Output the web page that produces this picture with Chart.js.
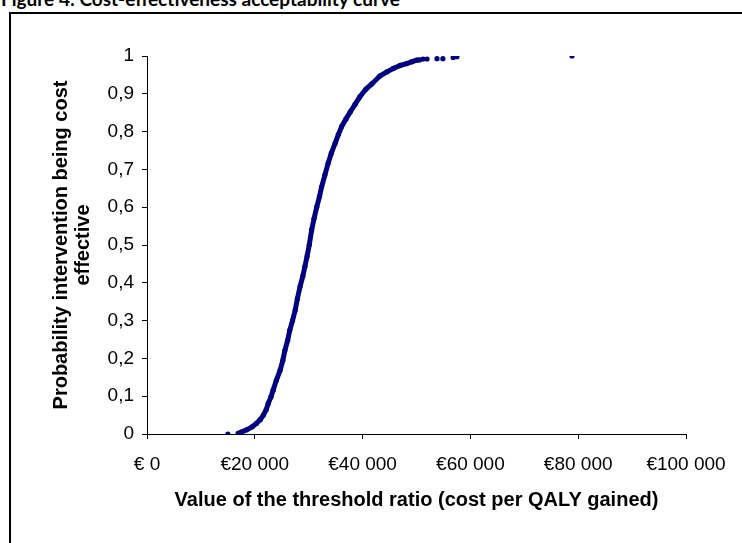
<!DOCTYPE html>
<html>
<head>
<meta charset="utf-8">
<script src="https://cdn.jsdelivr.net/npm/chart.js@4"></script>
<style>
  html, body { margin: 0; padding: 0; background: #ffffff; overflow: hidden; }
  #wrap { position: relative; width: 742px; height: 543px; }
  #frame { position: absolute; left: 9px; top: 12px; width: 800px; height: 600px;
           border-left: 2px solid #000; border-top: 2px solid #000; }
  #fig { position: absolute; left: 1px; top: -11px; font: bold 19px Lato, 'Open Sans', sans-serif;
         color: #000; white-space: nowrap; line-height: 19px; }
  canvas { position: absolute; left: 0; top: 0; }
</style>
</head>
<body>
<div id="wrap">
  <div id="fig">Figure 4: Cost-effectiveness acceptability curve</div>
  <div id="frame"></div>
  <canvas id="ceac" width="742" height="543"></canvas>
</div>
<script>
// Threshold ratio (EUR per QALY) - dense part of the curve
const thresholdEur = [
  16900, 17500, 18500, 19500, 20300, 21000, 21600, 22100, 22500, 23000,
  23400, 24000, 24700, 25200, 25600, 26100, 26500, 27000, 27500, 27900,
  28400, 28900, 29300, 29700, 30100, 30550, 31000, 31500, 32000, 32400,
  33000, 33600, 34200, 34900, 35500, 36100, 36900, 37700, 38600, 39500,
  40600, 41700, 43200, 44500, 45700, 47000, 48200, 49200, 50000, 50650,
];
// Probability intervention being cost effective, one per threshold above
const probCE = [
  0.002, 0.005, 0.011, 0.019, 0.028, 0.038, 0.050, 0.064, 0.081, 0.098,
  0.116, 0.142, 0.169, 0.195, 0.222, 0.248, 0.275, 0.300, 0.328, 0.358,
  0.390, 0.417, 0.443, 0.470, 0.500, 0.540, 0.570, 0.601, 0.628, 0.654,
  0.685, 0.716, 0.743, 0.769, 0.792, 0.813, 0.833, 0.852, 0.872, 0.892,
  0.912, 0.926, 0.947, 0.958, 0.967, 0.975, 0.980, 0.985, 0.989, 0.990,
];
// Loose markers away from the dense curve
const looseEur = [15000, 51200, 51950, 53800, 54900, 56800, 57500, 78850];
const looseProb = [0, 0.992, 0.992, 0.993, 0.993, 0.996, 0.998, 1];

const xTicks = [0, 20000, 40000, 60000, 80000, 100000];
const xTickLabels = ['€ 0', '€20 000', '€40 000', '€60 000', '€80 000', '€100 000'];
const yTicks = [0, 0.1, 0.2, 0.3, 0.4, 0.5, 0.6, 0.7, 0.8, 0.9, 1];
const yTickLabels = ['0', '0,1', '0,2', '0,3', '0,4', '0,5', '0,6', '0,7', '0,8', '0,9', '1'];

const NAVY = '#000080';
const FONT = 'Liberation Sans, Arial, sans-serif';
const toPts = (xs, ys) => xs.map((x, i) => ({ x, y: ys[i] }));

new Chart(document.getElementById('ceac'), {
  type: 'scatter',
  data: {
    datasets: [{
      data: toPts(thresholdEur, probCE),
      showLine: true,
      borderColor: NAVY,
      borderWidth: 5,
      backgroundColor: NAVY,
      pointRadius: 2.6,
      pointBorderWidth: 0,
      tension: 0,
    }, {
      data: toPts(looseEur, looseProb),
      showLine: false,
      backgroundColor: NAVY,
      borderColor: NAVY,
      pointRadius: 2.6,
      pointBorderWidth: 0,
    }],
  },
  options: {
    responsive: false,
    animation: false,
    layout: { padding: { top: 56, right: 56, left: 0, bottom: 0 } },
    plugins: { legend: { display: false }, tooltip: { enabled: false } },
    scales: {
      x: {
        type: 'linear', min: 0, max: 100000,
        afterFit: (s) => { s.height = 109; },
        afterBuildTicks: (s) => { s.ticks = xTicks.map((v) => ({ value: v })); },
        grid: { drawOnChartArea: false, color: '#000', tickLength: 5 },
        border: { color: '#000', width: 1 },
        ticks: {
          color: '#000', padding: 14, maxRotation: 0,
          font: { family: FONT, size: 19 },
          callback: (v) => xTickLabels[xTicks.indexOf(v)],
        },
        title: {
          display: true, text: 'Value of the threshold ratio (cost per QALY gained)',
          color: '#000', font: { family: FONT, size: 20, weight: 'bold' },
          padding: { top: 0, bottom: 31 },
        },
      },
      y: {
        type: 'linear', min: 0, max: 1,
        afterFit: (s) => { s.width = 147; },
        afterBuildTicks: (s) => { s.ticks = yTicks.map((v) => ({ value: v })); },
        grid: { drawOnChartArea: false, color: '#000', tickLength: 5 },
        border: { color: '#000', width: 1 },
        ticks: {
          color: '#000', padding: 8,
          font: { family: FONT, size: 19 },
          callback: (v) => yTickLabels[yTicks.indexOf(v)],
        },
        title: {
          display: true, text: ['Probability intervention being cost', 'effective'],
          color: '#000', font: { family: FONT, size: 20, weight: 'bold', lineHeight: 1.1 },
          padding: { top: 50, bottom: 0 },
        },
      },
    },
  },
});
</script>
</body>
</html>
